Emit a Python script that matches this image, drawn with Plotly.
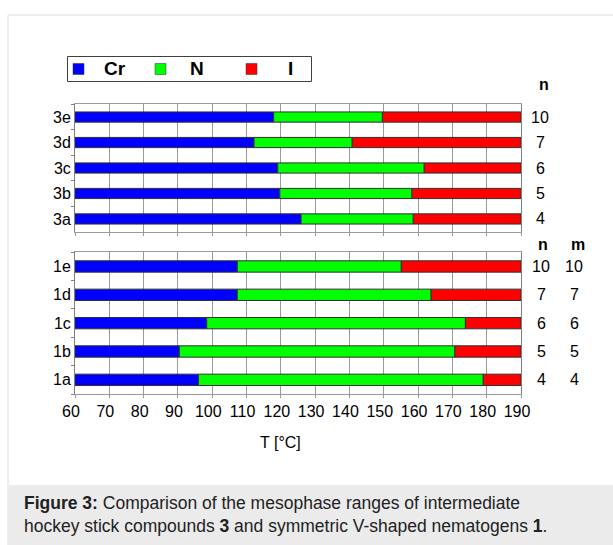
import numpy as np
import plotly.graph_objects as go

# ---------------- data ----------------
T_MIN, T_MAX = 60, 190
x_ticks = list(range(60, 191, 10))

comp_top = ["3a", "3b", "3c", "3d", "3e"]
melt_top = [125.9, 119.7, 119.1, 112.2, 117.9]    # Cr -> N
clear_top = [158.6, 158.2, 161.8, 140.8, 149.6]   # N -> I
n_top = [4, 5, 6, 7, 10]

comp_bot = ["1a", "1b", "1c", "1d", "1e"]
melt_bot = [96.0, 90.4, 98.4, 107.3, 107.3]
clear_bot = [179.0, 170.7, 173.8, 163.8, 155.1]
n_bot = [4, 5, 6, 7, 10]
m_bot = [4, 5, 6, 7, 10]

phases = ["Cr", "N", "I"]
phase_colors = ["#0000FF", "#00FF00", "#FF0000"]

caption_html = ("<b>Figure 3:</b> Comparison of the mesophase ranges of intermediate<br>"
                "hockey stick compounds <b>3</b> and symmetric V-shaped nematogens <b>1</b>.")

# ---------------- layout helpers ----------------
W, H = 613, 545
FONT = "Liberation Sans, Arial, sans-serif"
TS = 16


def px_x(p):
    return p / W


def px_y(p):
    return 1 - p / H


fig = go.Figure()


def add_panel(cats, melt, clear, xa, ya):
    melt = np.array(melt)
    clear = np.array(clear)
    segs = [
        (np.full(len(cats), T_MIN), melt - T_MIN),
        (melt, clear - melt),
        (clear, T_MAX - clear),
    ]
    for (base, length), name, col in zip(segs, phases, phase_colors):
        fig.add_trace(go.Bar(
            y=cats, x=length, base=base, orientation="h", name=name,
            marker=dict(color=col, line=dict(color="#303030", width=1)),
            width=0.4, xaxis=xa, yaxis=ya, showlegend=False,
            hoverinfo="skip"))


add_panel(comp_top, melt_top, clear_top, "x", "y")
add_panel(comp_bot, melt_bot, clear_bot, "x2", "y2")

xdom = [px_x(75), px_x(521)]
grid_col = "#9a9a9a"
ax_common = dict(range=[T_MIN, T_MAX], tickvals=x_ticks, showgrid=True,
                 gridcolor=grid_col, gridwidth=1, showline=True, linecolor=grid_col,
                 linewidth=1, mirror=True, ticks="outside", ticklen=3,
                 tickcolor=grid_col, zeroline=False, domain=xdom, automargin=False,
                 tickfont=dict(family=FONT, size=TS, color="black"))
yax_common = dict(type="category", range=[-0.5, 4.5], showgrid=False,
                  showline=True, linecolor="#7f7f7f", linewidth=1, mirror=True,
                  ticks="outside", ticklen=3, tickcolor="#7f7f7f",
                  tickson="boundaries", zeroline=False, automargin=False,
                  tickfont=dict(family=FONT, size=TS, color="black"))

fig.update_layout(
    width=W, height=H, margin=dict(l=0, r=0, t=0, b=0, autoexpand=False),
    paper_bgcolor="white", plot_bgcolor="white", barmode="overlay",
    xaxis=dict(**ax_common, anchor="y", showticklabels=False),
    yaxis=dict(**yax_common, domain=[px_y(231.7), px_y(104.3)], anchor="x"),
    xaxis2=dict(**ax_common, anchor="y2", showticklabels=True, ticklabelshift=-4),
    yaxis2=dict(**yax_common, domain=[px_y(394), px_y(252.3)], anchor="x2"),
    font=dict(family=FONT, size=TS, color="black"),
)

shapes = []
annos = []

# outer frame and caption background
shapes.append(dict(type="rect", xref="paper", yref="paper", x0=px_x(8), x1=px_x(640),
                   y0=px_y(560), y1=px_y(15), line=dict(color="#dcdcdc", width=1),
                   fillcolor="rgba(0,0,0,0)", layer="below"))
shapes.append(dict(type="rect", xref="paper", yref="paper", x0=px_x(8.5), x1=px_x(640),
                   y0=px_y(560), y1=px_y(485), line=dict(width=0),
                   fillcolor="#ebebeb", layer="below"))

# legend (box, swatches, labels)
shapes.append(dict(type="rect", xref="paper", yref="paper", x0=px_x(67.5), x1=px_x(311.5),
                   y0=px_y(81.5), y1=px_y(56.5), line=dict(color="#404040", width=1),
                   fillcolor="white"))
sw_x = [73, 155, 246]
txt_x = [102, 188, 286]
for sx, tx, name, col in zip(sw_x, txt_x, phases, phase_colors):
    shapes.append(dict(type="rect", xref="paper", yref="paper", x0=px_x(sx), x1=px_x(sx + 11),
                       y0=px_y(74.5), y1=px_y(63.5), line=dict(color="#303030", width=0.5),
                       fillcolor=col))
    annos.append(dict(text=f"<b>{name}</b>", xref="paper", yref="paper", x=px_x(tx),
                      y=px_y(69), xanchor="left", yanchor="middle", showarrow=False,
                      font=dict(family=FONT, size=19, color="black")))

# right-side n / m labels
annos.append(dict(text="<b>n</b>", xref="paper", yref="paper", x=px_x(544), y=px_y(84),
                  showarrow=False, xanchor="center", yanchor="middle",
                  font=dict(family=FONT, size=TS)))
for c, n in zip(comp_top, n_top):
    annos.append(dict(text=str(n), xref="paper", yref="y", x=px_x(540), y=c,
                      showarrow=False, xanchor="center", yanchor="middle",
                      font=dict(family=FONT, size=TS)))
annos.append(dict(text="<b>n</b>", xref="paper", yref="paper", x=px_x(543), y=px_y(244),
                  showarrow=False, xanchor="center", yanchor="middle",
                  font=dict(family=FONT, size=TS)))
annos.append(dict(text="<b>m</b>", xref="paper", yref="paper", x=px_x(578), y=px_y(244),
                  showarrow=False, xanchor="center", yanchor="middle",
                  font=dict(family=FONT, size=TS)))
for c, n, m in zip(comp_bot, n_bot, m_bot):
    annos.append(dict(text=str(n), xref="paper", yref="y2", x=px_x(541), y=c,
                      showarrow=False, xanchor="center", yanchor="middle",
                      font=dict(family=FONT, size=TS)))
    annos.append(dict(text=str(m), xref="paper", yref="y2", x=px_x(574), y=c,
                      showarrow=False, xanchor="center", yanchor="middle",
                      font=dict(family=FONT, size=TS)))

# x title
annos.append(dict(text="T [°C]", xref="paper", yref="paper", x=px_x(280), y=px_y(442),
                  showarrow=False, xanchor="center", yanchor="middle",
                  font=dict(family=FONT, size=TS)))

# caption
annos.append(dict(text=caption_html, xref="paper", yref="paper", x=px_x(22), y=px_y(514),
                  showarrow=False, xanchor="left", yanchor="middle", align="left",
                  font=dict(family=FONT, size=17.5, color="#222222")))

fig.update_layout(shapes=shapes, annotations=annos)
fig.write_html("out.html", config={"displayModeBar": False},
               post_script="document.body.style.margin='0';document.body.style.overflow='hidden';")
